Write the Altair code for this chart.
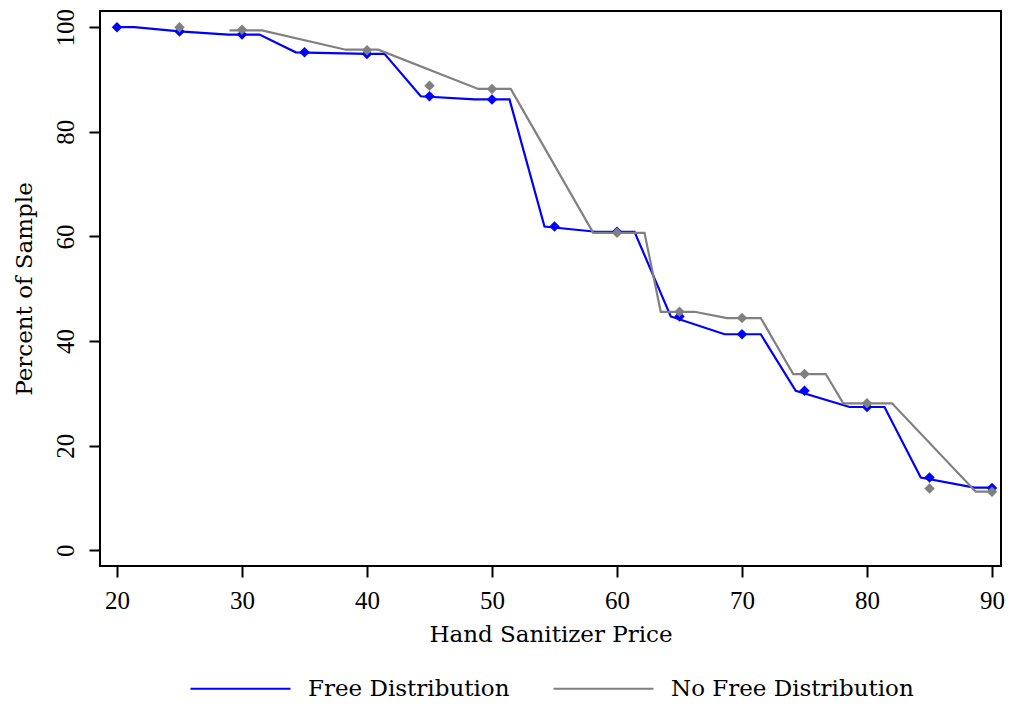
import altair as alt
import pandas as pd

# Observed shares (diamonds)
price = [20, 25, 30, 35, 40, 45, 50, 55, 60, 65, 70, 75, 80, 85, 90]
free_pct = [100, 99.2, 98.6, 95.2, 94.9, 86.8, 86.2, 61.9, 60.9, 44.7, 41.3, 30.5, 27.4, 13.9, 11.9]
nofree_price = [25, 30, 40, 45, 50, 60, 65, 70, 75, 80, 85, 90]
nofree_pct = [100, 99.5, 95.6, 88.8, 88.2, 60.7, 45.6, 44.4, 33.7, 28.1, 11.8, 11.2]

# Fitted lines (vertices)
free_fit_x = [20, 21.4, 25, 28.9, 31.4, 34.3, 40, 41.4, 44.3, 48.6, 51.4, 54.2, 58.3, 61.4,
              64.3, 68.6, 71.5, 74.3, 78.6, 81.4, 84.3, 88.6, 90]
free_fit_y = [100, 100, 99.2, 98.6, 98.6, 95.2, 94.9, 94.9, 86.8, 86.2, 86.2, 61.9, 60.9, 60.9,
              44.7, 41.3, 41.3, 30.5, 27.4, 27.4, 13.9, 12.0, 12.0]
nofree_fit_x = [29.0, 31.6, 38.3, 40.9, 48.9, 51.5, 58.1, 62.2, 63.5, 66.2, 68.8, 71.5,
                74.1, 76.7, 78.1, 82.0, 88.7, 90]
nofree_fit_y = [99.4, 99.4, 95.7, 95.7, 88.2, 88.2, 60.7, 60.7, 45.6, 45.6, 44.4, 44.4,
                33.7, 33.7, 28.1, 28.1, 11.2, 11.2]

series = ["Free Distribution", "No Free Distribution"]
colors = ["#0000ff", "#808080"]
x_ticks = [20, 30, 40, 50, 60, 70, 80, 90]
y_ticks = [0, 20, 40, 60, 80, 100]

TICK_FONT = "Liberation Serif"
TEXT_FONT = "DejaVu Serif"

fits = pd.concat([
    pd.DataFrame({"price": free_fit_x, "pct": free_fit_y, "series": series[0], "o": range(len(free_fit_x))}),
    pd.DataFrame({"price": nofree_fit_x, "pct": nofree_fit_y, "series": series[1], "o": range(len(nofree_fit_x))}),
])
free_pts = pd.DataFrame({"price": price, "pct": free_pct})
nofree_pts = pd.DataFrame({"price": nofree_price, "pct": nofree_pct})

x_scale = alt.Scale(domain=[18.64, 90.72], nice=False, zero=False)
y_scale = alt.Scale(domain=[-3.0, 103.1], nice=False, zero=False)

x_enc = alt.X("price:Q", scale=x_scale, title="Hand Sanitizer Price",
              axis=alt.Axis(values=x_ticks, format="d"))
y_enc = alt.Y("pct:Q", scale=y_scale, title="Percent of Sample",
              axis=alt.Axis(values=y_ticks, format="d", labelAngle=-90,
                            labelAlign="center", labelBaseline="bottom"))

lines = alt.Chart(fits).mark_line(strokeWidth=2.2).encode(
    x=x_enc, y=y_enc, order="o:Q",
    color=alt.Color("series:N", scale=alt.Scale(domain=series, range=colors),
                    legend=alt.Legend(orient="none", legendX=89, legendY=626,
                                      direction="horizontal", columns=2, columnPadding=39,
                                      symbolType="stroke", symbolSize=10000,
                                      symbolStrokeWidth=2.2, labelOffset=16,
                                      labelFont=TEXT_FONT, labelFontSize=23, labelColor="black",
                                      labelLimit=400, title=None, padding=0)),
)

free_dots = alt.Chart(free_pts).mark_point(shape="diamond", filled=True, size=110, opacity=1,
                                           color=colors[0]).encode(x=x_enc, y=y_enc)
nofree_dots = alt.Chart(nofree_pts).mark_point(shape="diamond", filled=True, size=110, opacity=1,
                                               color=colors[1]).encode(x=x_enc, y=y_enc)

chart = alt.layer(lines, free_dots, nofree_dots).properties(
    width=901, height=555,
    autosize=alt.AutoSizeParams(type="none"),
    padding={"left": 92, "top": 3, "right": 4, "bottom": 135},
).configure_view(
    stroke="black", strokeWidth=2,
).configure_axis(
    domain=False, grid=False,
    tickColor="black", tickWidth=2, tickSize=11,
    labelFont=TICK_FONT, labelFontSize=25, labelColor="black",
    titleFont=TEXT_FONT, titleFontSize=23, titleColor="black", titleFontWeight="normal",
).configure_axisX(
    labelPadding=11, titlePadding=10,
).configure_axisY(
    labelPadding=11, titlePadding=17,
)

chart.save("out.html", embed_options={"renderer": "svg", "actions": False})
